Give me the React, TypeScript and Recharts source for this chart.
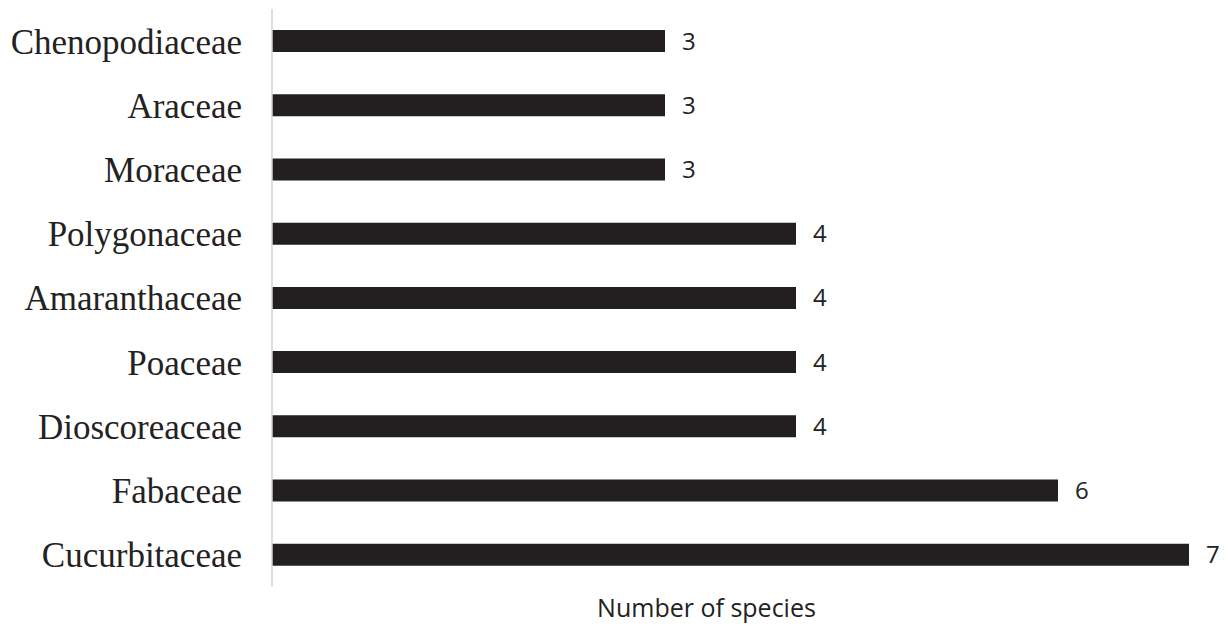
import { BarChart, Bar, XAxis, YAxis, LabelList, Label } from "recharts";

const families = [
  "Chenopodiaceae",
  "Araceae",
  "Moraceae",
  "Polygonaceae",
  "Amaranthaceae",
  "Poaceae",
  "Dioscoreaceae",
  "Fabaceae",
  "Cucurbitaceae",
];

const speciesCount = [3, 3, 3, 4, 4, 4, 4, 6, 7];

const data = families.map((name, i) => ({ name, count: speciesCount[i] }));

const AxisTitle = ({ viewBox }: any) => {
  if (!viewBox) return null;
  return (
    <text
      x={viewBox.x + viewBox.width / 2 - 24}
      y={viewBox.y + viewBox.height / 2}
      textAnchor="middle"
      dominantBaseline="central"
      fontFamily="'Open Sans', sans-serif"
      fontSize={25}
      fill="#222"
    >
      Number of species
    </text>
  );
};

export default function App() {
  return (
    <div style={{ position: "absolute", left: 0, top: 0, background: "#fff" }}>
      <BarChart
        width={1228}
        height={626}
        data={data}
        layout="vertical"
        margin={{ top: 9, right: 39, bottom: 0, left: 0 }}
      >
        <XAxis
          type="number"
          domain={[0, 7]}
          axisLine={false}
          tick={false}
          tickLine={false}
          height={39}
        >
          <Label content={<AxisTitle />} />
        </XAxis>
        <YAxis
          type="category"
          dataKey="name"
          width={272}
          axisLine={{ stroke: "#d4d4d4", strokeWidth: 1.5 }}
          tickLine={false}
          tickSize={0}
          tickMargin={30}
          tick={{
            fontFamily: "'Liberation Serif', 'Times New Roman', serif",
            fontSize: 35,
            fill: "#222",
          }}
        />
        <Bar dataKey="count" fill="#231f20" barSize={22} isAnimationActive={false}>
          <LabelList
            dataKey="count"
            position="right"
            offset={17}
            fill="#222"
            fontSize={24}
            fontFamily="'Open Sans', sans-serif"
          />
        </Bar>
      </BarChart>
    </div>
  );
}
